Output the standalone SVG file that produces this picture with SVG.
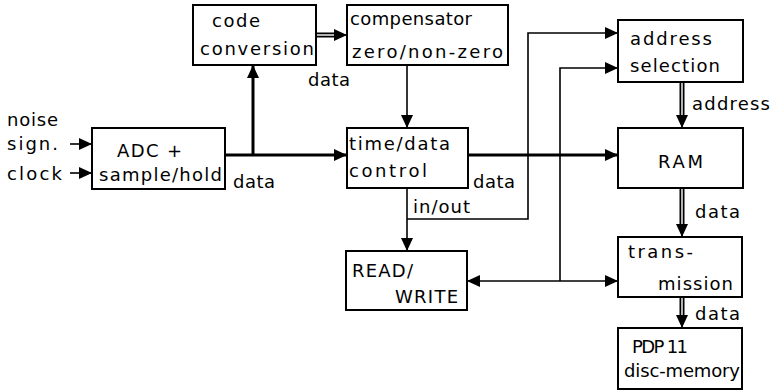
<svg xmlns="http://www.w3.org/2000/svg" width="774" height="391" viewBox="0 0 774 391">
<defs>
<marker id="ah" markerUnits="userSpaceOnUse" markerWidth="13" markerHeight="13" viewBox="0 0 13 13" refX="12" refY="6.5" orient="auto">
<path d="M0,0.5 L13,6.5 L0,12.5 Z" fill="#000"/>
</marker>
</defs>
<style>
.box{fill:#fff;stroke:#000;stroke-width:2}
text{font-family:"DejaVu Sans","Liberation Sans",sans-serif;font-size:18px;fill:#000}
.ln{fill:none;stroke:#000;stroke-width:1.6}
.th{fill:none;stroke:#000;stroke-width:3}
.dbl{fill:none;stroke:#000;stroke-width:5}
.gap{fill:none;stroke:#fff;stroke-width:1.4}
</style>
<rect width="774" height="391" fill="#fff"/>

<g id="connectors">
<path class="ln" d="M70,144 H91" marker-end="url(#ah)"/>
<path class="ln" d="M70,173 H91" marker-end="url(#ah)"/>
<path class="th" d="M225,155 H346" marker-end="url(#ah)"/>
<path class="th" d="M253,155 V66" marker-end="url(#ah)"/>
<path class="ln" d="M407,65 V127" marker-end="url(#ah)"/>
<path class="th" d="M468,155 H617" marker-end="url(#ah)"/>
<path class="ln" d="M407,188 V250" marker-end="url(#ah)"/>
<path class="ln" d="M407,219 H528 V33 H617" marker-end="url(#ah)"/>
<path class="ln" d="M560,281 V68 H617" marker-end="url(#ah)"/>
<path class="ln" d="M560,281 H468" marker-end="url(#ah)"/>
<path class="ln" d="M560,281 H617" marker-end="url(#ah)"/>
<path class="dbl" d="M316,35 H336"/><path class="gap" d="M316,35 H336"/>
<path class="ln" d="M335,35 H346" marker-end="url(#ah)"/>
<path class="dbl" d="M682,82 V117"/><path class="gap" d="M682,82 V117"/>
<path class="ln" d="M682,116 V127" marker-end="url(#ah)"/>
<path class="dbl" d="M682,188 V226"/><path class="gap" d="M682,188 V226"/>
<path class="ln" d="M682,225 V236" marker-end="url(#ah)"/>
<path class="dbl" d="M682,297 V317"/><path class="gap" d="M682,297 V317"/>
<path class="ln" d="M682,316 V327" marker-end="url(#ah)"/>
</g>

<g id="labels">
<text x="7" y="126" textLength="51" lengthAdjust="spacing">noise</text>
<text x="7" y="150" textLength="51" lengthAdjust="spacing">sign.</text>
<text x="7" y="180" textLength="55" lengthAdjust="spacing">clock</text>
<text x="233" y="188" textLength="42" lengthAdjust="spacing">data</text>
<text x="308" y="86" textLength="42" lengthAdjust="spacing">data</text>
<text x="473" y="188" textLength="42" lengthAdjust="spacing">data</text>
<text x="413" y="213" textLength="57" lengthAdjust="spacing">in/out</text>
<text x="692" y="110" textLength="78" lengthAdjust="spacing">address</text>
<text x="695" y="218" textLength="45" lengthAdjust="spacing">data</text>
<text x="695" y="320" textLength="45" lengthAdjust="spacing">data</text>
</g>

<g id="code-conversion">
<rect class="box" x="193" y="5" width="123" height="60"/>
<text x="212" y="27" textLength="48" lengthAdjust="spacing">code</text>
<text x="200" y="55" textLength="114" lengthAdjust="spacing">conversion</text>
</g>
<g id="compensator">
<rect class="box" x="347" y="5" width="161" height="60"/>
<text x="350" y="25" textLength="122" lengthAdjust="spacing">compensator</text>
<text x="352" y="58" textLength="151" lengthAdjust="spacing">zero/non-zero</text>
</g>
<g id="adc">
<rect class="box" x="92" y="128" width="133" height="61"/>
<text x="117" y="157" textLength="65" lengthAdjust="spacing">ADC +</text>
<text x="99" y="181" textLength="123" lengthAdjust="spacing">sample/hold</text>
</g>
<g id="time-data">
<rect class="box" x="347" y="128" width="121" height="60"/>
<text x="349" y="150" textLength="101" lengthAdjust="spacing">time/data</text>
<text x="349" y="177" textLength="78" lengthAdjust="spacing">control</text>
</g>
<g id="address-selection">
<rect class="box" x="618" y="20" width="125" height="62"/>
<text x="630" y="45" textLength="82" lengthAdjust="spacing">address</text>
<text x="630" y="72" textLength="90" lengthAdjust="spacing">selection</text>
</g>
<g id="ram">
<rect class="box" x="618" y="128" width="125" height="60"/>
<text x="658" y="168" textLength="45" lengthAdjust="spacing">RAM</text>
</g>
<g id="read-write">
<rect class="box" x="346" y="251" width="121" height="59"/>
<text x="352" y="277" textLength="61" lengthAdjust="spacing">READ/</text>
<text x="395" y="303" textLength="63" lengthAdjust="spacing">WRITE</text>
</g>
<g id="transmission">
<rect class="box" x="618" y="237" width="124" height="60"/>
<text x="628" y="258" textLength="65" lengthAdjust="spacing">trans-</text>
<text x="658" y="290" textLength="75" lengthAdjust="spacing">mission</text>
</g>
<g id="pdp11">
<rect class="box" x="618" y="328" width="124" height="61"/>
<text x="632" y="353" textLength="56" lengthAdjust="spacing">PDP 11</text>
<text x="624" y="377" textLength="116" lengthAdjust="spacing">disc-memory</text>
</g>
</svg>
